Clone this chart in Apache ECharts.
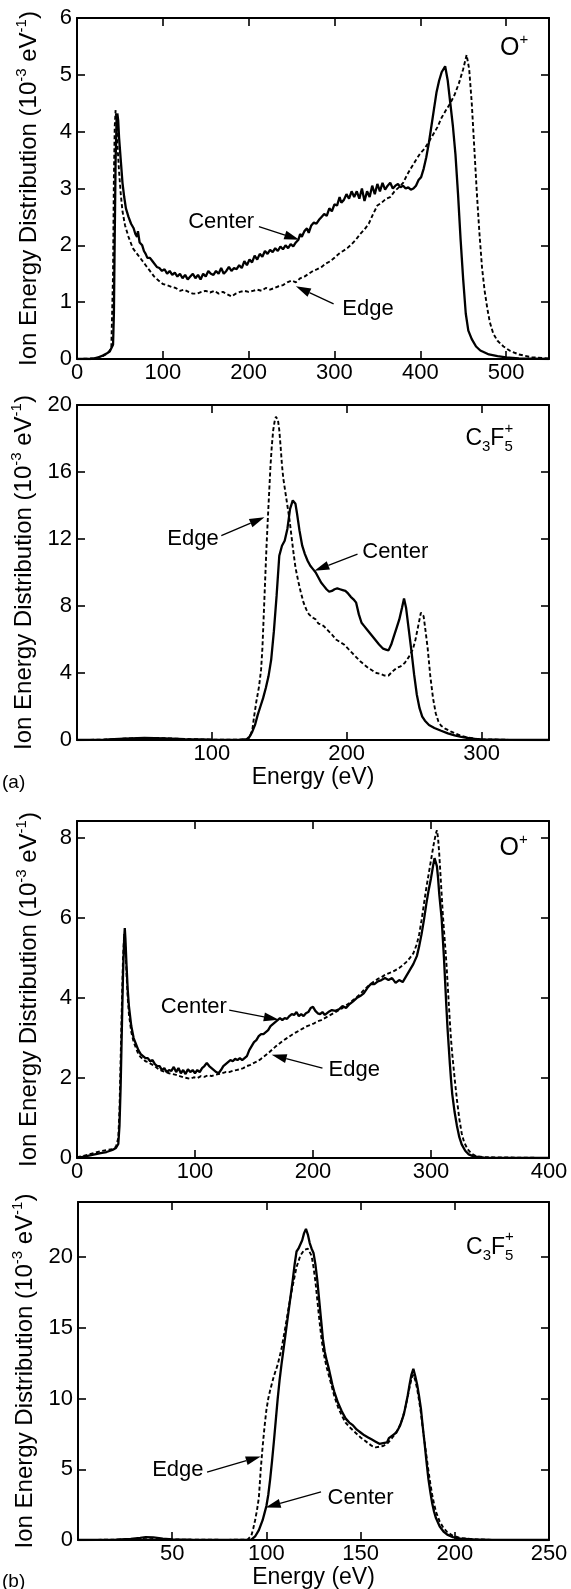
<!DOCTYPE html>
<html><head><meta charset="utf-8">
<script src="https://cdn.jsdelivr.net/npm/echarts/dist/echarts.min.js"></script>
<style>html,body{margin:0;padding:0;background:#fff}#c{width:571px;height:1589px}</style>
</head><body><div id="c"></div>
<script>
// ---------- DATA (energy eV, distribution 1e-3 eV^-1) ----------
const a1Center = [[0,0],[15,0],[20,0.01],[25,0.03],[30,0.06],[35,0.1],[38,0.13],[40,0.15],[42,0.25],[43,0.8],[44,2.2],[45,3.5],[46,4.1],[47,4.32],[48,4.2],[49,3.9],[51,3.5],[53,3.1],[55,2.85],[57,2.65],[60,2.5],[63,2.38],[66,2.3],[68,2.2],[70,2.15],[71,2.25],[73,2.05],[76,2.0],[78,1.9],[80,1.85],[82,1.78],[85,1.78],[88,1.72],[90,1.7],[93,1.62],[96,1.6],[99,1.55],[102,1.58],[105,1.5],[108,1.55],[111,1.48],[114,1.52],[117,1.45],[120,1.5],[123,1.42],[126,1.48],[129,1.4],[132,1.45],[135,1.5],[138,1.42],[141,1.48],[144,1.4],[147,1.5],[150,1.45],[153,1.55],[156,1.5],[159,1.48],[162,1.55],[165,1.5],[168,1.6],[171,1.5],[174,1.55],[177,1.62],[180,1.55],[183,1.6],[186,1.58],[189,1.65],[192,1.6],[195,1.72],[198,1.65],[201,1.75],[204,1.7],[207,1.82],[210,1.75],[213,1.85],[216,1.8],[219,1.9],[222,1.85],[225,1.92],[228,1.88],[231,1.95],[234,1.9],[237,1.98],[240,1.93],[243,2.0],[246,1.95],[249,2.02],[252,1.98],[255,2.05],[258,2.1],[260,2.2],[262,2.15],[265,2.25],[268,2.3],[270,2.22],[273,2.35],[276,2.4],[279,2.38],[282,2.45],[285,2.5],[288,2.55],[291,2.52],[294,2.65],[297,2.6],[300,2.72],[303,2.7],[306,2.85],[308,2.75],[311,2.8],[314,2.9],[317,2.82],[320,2.95],[323,2.85],[326,2.95],[329,2.82],[332,3.0],[335,2.78],[338,2.95],[341,2.85],[344,3.05],[347,2.9],[350,3.08],[353,2.95],[356,3.1],[359,2.98],[362,3.05],[365,3.1],[368,3.0],[371,3.05],[374,3.08],[377,3.02],[380,3.05],[383,3.0],[386,3.02],[389,2.98],[392,3.0],[395,3.05],[398,3.15],[401,3.2],[404,3.35],[407,3.55],[410,3.8],[413,4.1],[416,4.4],[419,4.7],[422,4.9],[425,5.05],[429,5.15],[432,4.9],[435,4.5],[438,4.1],[441,3.6],[444,2.9],[447,2.1],[450,1.4],[453,0.8],[456,0.5],[460,0.35],[465,0.22],[470,0.15],[480,0.08],[490,0.05],[500,0.03],[515,0.01],[550,0]];
const a1Edge = [[0,0],[20,0.01],[30,0.05],[36,0.1],[40,0.2],[42,1.5],[43,3.2],[44,4.1],[45,4.38],[46,4.2],[47,3.8],[49,3.3],[51,2.9],[53,2.6],[56,2.35],[60,2.15],[65,1.95],[70,1.85],[75,1.75],[80,1.65],[85,1.55],[90,1.45],[95,1.38],[100,1.32],[105,1.3],[110,1.27],[115,1.25],[120,1.2],[125,1.22],[130,1.18],[135,1.15],[140,1.15],[145,1.18],[150,1.2],[155,1.17],[160,1.2],[165,1.15],[170,1.18],[175,1.14],[180,1.1],[185,1.15],[190,1.18],[195,1.2],[200,1.18],[205,1.2],[210,1.22],[215,1.2],[220,1.25],[225,1.22],[230,1.25],[235,1.28],[240,1.3],[245,1.35],[250,1.38],[255,1.35],[260,1.42],[265,1.45],[270,1.5],[275,1.55],[280,1.58],[285,1.62],[290,1.68],[295,1.72],[300,1.78],[305,1.85],[310,1.9],[315,1.95],[320,2.02],[325,2.1],[330,2.2],[335,2.28],[340,2.38],[345,2.55],[350,2.7],[355,2.75],[360,2.82],[365,2.85],[370,2.95],[375,3.02],[380,3.1],[385,3.25],[390,3.38],[395,3.5],[400,3.62],[405,3.7],[410,3.82],[415,3.95],[420,4.08],[425,4.25],[430,4.38],[435,4.5],[440,4.65],[445,4.85],[450,5.1],[454,5.35],[457,5.1],[460,4.5],[463,3.7],[466,2.9],[469,2.2],[472,1.6],[475,1.2],[478,0.9],[481,0.65],[485,0.45],[490,0.32],[497,0.22],[505,0.14],[515,0.08],[530,0.03],[550,0.01]];

const a2Center = [[0,0],[20,0.02],[35,0.08],[50,0.12],[65,0.1],[80,0.05],[100,0.02],[120,0.01],[126,0.05],[128,0.2],[130,0.5],[132,0.9],[134,1.5],[136,2.0],[138,2.5],[140,3.1],[142,3.8],[144,4.8],[146,6.5],[148,8.6],[150,11.0],[152,11.6],[154,11.9],[156,12.6],[158,13.8],[160,14.3],[161,14.35],[162,14.1],[163,13.6],[165,12.5],[167,11.6],[169,11.1],[171,10.7],[173,10.4],[175,10.2],[177,10.0],[179,9.7],[181,9.4],[183,9.2],[185,9.0],[187,8.85],[189,8.9],[191,9.0],[193,9.05],[195,9.0],[197,8.95],[199,8.9],[201,8.75],[203,8.55],[205,8.4],[207,8.2],[209,7.5],[211,7.0],[213,6.8],[215,6.6],[218,6.3],[221,6.0],[224,5.7],[227,5.45],[229,5.4],[230,5.3],[231,5.35],[233,5.7],[235,6.2],[237,6.7],[239,7.2],[241,7.9],[242.5,8.45],[244,7.9],[246,6.6],[248,5.3],[250,3.9],[252,2.7],[254,1.9],[256,1.4],[258,1.15],[261,0.9],[265,0.72],[270,0.55],[275,0.4],[280,0.28],[285,0.18],[290,0.12],[295,0.07],[300,0.04],[320,0.01],[350,0]];
const a2Edge = [[0,0],[20,0.02],[40,0.1],[60,0.12],[80,0.06],[100,0.02],[120,0.02],[126,0.05],[128,0.15],[130,0.6],[131.5,1.5],[133,2.3],[135,3.2],[136.5,4.2],[137.5,5.5],[138.5,7.5],[139.5,9.5],[140.5,11.5],[141.5,13.2],[142.5,14.8],[143.5,16.4],[144.5,17.6],[145.5,18.5],[146.5,19.0],[147.5,19.3],[148.2,19.4],[149,19.1],[150,18.5],[151,17.5],[152,16.4],[153,15.6],[154.5,14.8],[156,14.0],[157.5,13.2],[159,12.2],[160.5,11.2],[162,10.3],[164,9.5],[166,8.8],[168,8.2],[170,7.8],[172,7.5],[175,7.3],[177,7.2],[179,6.95],[181,6.9],[183,6.8],[186,6.55],[189,6.3],[192,6.0],[195,5.85],[198,5.7],[201,5.45],[204,5.2],[207,4.95],[210,4.7],[213,4.5],[216,4.3],[219,4.15],[222,4.0],[225,3.95],[228,3.85],[231,3.85],[234,4.1],[237,4.3],[240,4.4],[243,4.6],[246,4.95],[249,5.4],[251,6.0],[253,6.8],[255,7.6],[256,7.7],[257,7.4],[258,6.8],[260,5.5],[262,3.8],[264,2.5],[266,1.6],[268,1.1],[270,0.85],[273,0.68],[277,0.52],[281,0.38],[285,0.25],[290,0.15],[295,0.08],[300,0.04],[320,0.01],[350,0]];

const b1Center = [[0,0],[5,0.03],[10,0.06],[15,0.09],[20,0.12],[25,0.15],[30,0.2],[33,0.25],[35,0.35],[36,0.8],[37,1.8],[38,3.2],[39,4.6],[40,5.5],[40.5,5.75],[41,5.5],[42,4.8],[43,4.2],[44,3.8],[46,3.3],[48,3.0],[50,2.85],[52,2.7],[54,2.6],[56,2.55],[58,2.5],[60,2.5],[62,2.42],[64,2.45],[66,2.35],[68,2.3],[70,2.3],[72,2.2],[74,2.25],[76,2.15],[78,2.2],[80,2.18],[82,2.28],[84,2.15],[86,2.25],[88,2.12],[90,2.2],[92,2.1],[94,2.22],[96,2.15],[98,2.2],[100,2.12],[102,2.2],[104,2.15],[106,2.25],[108,2.3],[110,2.38],[112,2.3],[114,2.25],[116,2.2],[118,2.15],[120,2.12],[122,2.2],[124,2.3],[126,2.35],[128,2.4],[130,2.45],[132,2.42],[134,2.48],[136,2.45],[138,2.5],[140,2.45],[142,2.5],[144,2.55],[146,2.7],[148,2.8],[150,2.9],[152,2.95],[154,3.05],[156,3.1],[158,3.1],[160,3.15],[162,3.2],[164,3.3],[166,3.35],[168,3.4],[170,3.45],[172,3.5],[174,3.45],[176,3.5],[178,3.48],[180,3.55],[182,3.6],[184,3.58],[186,3.65],[188,3.55],[190,3.6],[192,3.55],[194,3.62],[196,3.65],[198,3.75],[200,3.78],[202,3.68],[204,3.62],[206,3.6],[208,3.65],[210,3.58],[213,3.65],[216,3.7],[219,3.68],[222,3.72],[225,3.8],[228,3.75],[231,3.85],[234,3.92],[237,4.0],[240,4.05],[243,4.12],[246,4.25],[249,4.35],[252,4.35],[255,4.42],[258,4.45],[261,4.5],[264,4.45],[267,4.5],[270,4.38],[273,4.45],[276,4.4],[279,4.55],[282,4.7],[285,4.85],[288,5.05],[290,5.3],[292,5.6],[294,5.95],[296,6.35],[298,6.7],[300,7.0],[302,7.35],[303,7.5],[304,7.45],[305,7.3],[306,7.0],[307,6.6],[308,6.3],[309,6.0],[310,5.5],[311,5.0],[312,4.4],[313,3.8],[314,3.25],[315,2.8],[316,2.35],[317,1.95],[318,1.6],[320,1.15],[322,0.8],[324,0.52],[326,0.34],[329,0.18],[332,0.09],[336,0.04],[345,0.01],[400,0]];
const b1Edge = [[0,0.02],[5,0.05],[10,0.09],[15,0.13],[20,0.17],[25,0.2],[30,0.22],[33,0.28],[35,0.5],[36,1.2],[37,2.5],[38,3.8],[39,5.0],[40,5.6],[41,5.3],[42,4.6],[43,4.0],[44,3.6],[46,3.15],[48,2.9],[50,2.75],[52,2.6],[54,2.52],[56,2.48],[58,2.42],[60,2.4],[63,2.35],[66,2.3],[69,2.22],[72,2.18],[75,2.15],[78,2.12],[81,2.1],[84,2.08],[87,2.05],[90,2.02],[93,2.0],[96,1.98],[99,2.02],[102,2.0],[105,2.05],[108,2.03],[111,2.07],[114,2.05],[117,2.08],[120,2.1],[123,2.12],[126,2.15],[129,2.15],[132,2.18],[135,2.2],[138,2.22],[141,2.25],[144,2.3],[147,2.33],[150,2.38],[153,2.42],[156,2.48],[159,2.55],[162,2.62],[165,2.7],[168,2.78],[171,2.85],[174,2.92],[177,2.98],[180,3.04],[183,3.1],[186,3.15],[189,3.2],[192,3.25],[195,3.3],[198,3.33],[201,3.37],[204,3.42],[207,3.45],[210,3.5],[213,3.55],[216,3.6],[219,3.65],[222,3.7],[225,3.75],[228,3.82],[231,3.88],[234,3.95],[237,4.02],[240,4.1],[243,4.2],[246,4.28],[249,4.36],[252,4.42],[255,4.48],[258,4.52],[261,4.58],[264,4.62],[267,4.65],[270,4.7],[273,4.75],[276,4.82],[279,4.9],[282,5.0],[285,5.12],[288,5.35],[290,5.6],[292,5.95],[294,6.35],[296,6.75],[298,7.1],[300,7.45],[302,7.8],[304,8.1],[305,8.2],[306,8.0],[307,7.6],[308,7.1],[309,6.6],[310,6.1],[311,5.7],[312,5.3],[313,4.9],[314,4.4],[315,3.9],[316,3.4],[317,2.95],[318,2.6],[320,2.0],[322,1.45],[324,0.98],[326,0.62],[328,0.4],[331,0.22],[334,0.12],[338,0.05],[345,0.02],[400,0]];

const b2Center = [[0,0],[20,0.02],[28,0.08],[33,0.15],[36,0.2],[40,0.18],[45,0.1],[50,0.05],[60,0.02],[80,0.01],[92,0.02],[94,0.25],[96,0.7],[98,1.4],[99,1.9],[100,2.4],[101,3.2],[102,4.3],[103,5.6],[104,7.0],[105,8.5],[106,10.0],[107,11.3],[108,12.4],[109,13.4],[110,14.4],[111,15.4],[112,16.4],[113,17.4],[114,18.4],[115,19.5],[116,20.4],[117,20.6],[118,20.7],[119,21.2],[120,21.7],[121,22.0],[122,21.6],[123,21.0],[124,20.6],[125,20.3],[126,19.5],[127,18.4],[128,17.0],[129,15.6],[130,14.2],[131,13.3],[132,12.7],[133,12.2],[134,11.6],[135,11.0],[136,10.5],[138,9.7],[140,9.1],[142,8.6],[144,8.3],[146,8.1],[148,7.8],[150,7.6],[152,7.4],[154,7.25],[156,7.1],[158,6.95],[160,6.8],[162,6.85],[164,6.9],[165,7.2],[167,7.4],[169,7.6],[171,8.1],[173,8.9],[175,10.2],[176,11.0],[177,11.7],[178,12.1],[179,11.6],[180,11.0],[181,10.2],[182,9.3],[183,8.0],[184,6.8],[185,5.5],[186,4.3],[187,3.4],[188,2.6],[189,2.0],[190,1.55],[192,0.95],[194,0.6],[196,0.38],[199,0.2],[203,0.1],[210,0.04],[220,0.01],[250,0]];
const b2Edge = [[0,0],[20,0.02],[28,0.06],[33,0.12],[36,0.16],[40,0.14],[45,0.08],[50,0.04],[60,0.02],[80,0.01],[90,0.03],[92,0.3],[93,0.8],[94,1.4],[95,2.1],[96,3.0],[97,5.0],[98,6.6],[99,8.0],[100,9.2],[101,10.0],[102,10.6],[103,11.1],[104,11.6],[106,12.4],[108,13.5],[110,15.0],[112,16.6],[114,18.0],[116,19.3],[118,20.1],[120,20.5],[122,20.6],[123,20.5],[124,20.1],[125,19.3],[126,18.3],[127,17.0],[128,15.7],[129,14.5],[130,13.5],[131,12.8],[132,12.2],[134,11.2],[136,10.2],[138,9.4],[140,8.8],[142,8.3],[144,8.0],[146,7.75],[148,7.5],[150,7.25],[152,7.05],[154,6.85],[156,6.65],[158,6.55],[160,6.6],[162,6.65],[164,6.8],[166,7.1],[168,7.45],[170,7.85],[172,8.5],[174,9.5],[176,10.8],[177,11.4],[178,11.7],[179,11.3],[180,10.7],[181,9.9],[182,9.0],[183,7.9],[184,6.9],[185,5.9],[186,4.9],[187,4.0],[188,3.2],[189,2.55],[190,2.0],[192,1.3],[194,0.85],[196,0.55],[199,0.3],[203,0.14],[210,0.05],[220,0.01],[250,0]];

// axis extents / tick steps
const xMax = [550, 350, 400, 250];
const xStep = [100, 100, 100, 50];
const yMax = [6, 20, 8.43, 23.9];
const yStep = [1, 4, 2, 5];
const showXZero = [true, false, true, false];
const showXMaxLabel = [false, false, true, true];
const showYMaxLabel = [true, true, false, false];
const species = ['O', 'C3F5', 'O', 'C3F5'];
const seriesSets = [[a1Center, a1Edge], [a2Center, a2Edge], [b1Center, b1Edge], [b2Center, b2Edge]];

// ---------- layout ----------
const FONT = '"Liberation Sans", Arial, Helvetica, sans-serif';
const grids = [
  {left: 77, top: 18, width: 472, height: 341},
  {left: 77, top: 405, width: 472, height: 335},
  {left: 77, top: 821, width: 472, height: 337},
  {left: 78, top: 1202, width: 471, height: 338}
];
const xNameShown = [false, true, false, true];

// annotation placement in data coordinates: [textX, textY, fromX, fromY, tipX, tipY]
const notes = [
  [{t: 'Center', p: [168, 2.42, 212, 2.33, 259, 2.1]}, {t: 'Edge', p: [339, 0.88, 299, 0.97, 255, 1.28]}],
  [{t: 'Edge', p: [86, 12.0, 107, 12.2, 139, 13.3]}, {t: 'Center', p: [236, 11.2, 208, 11.1, 176, 10.1]}],
  [{t: 'Center', p: [99, 3.79, 129, 3.7, 171, 3.46]}, {t: 'Edge', p: [235, 2.2, 208, 2.25, 165, 2.58]}],
  [{t: 'Edge', p: [53, 4.94, 68.5, 4.8, 97, 5.9]}, {t: 'Center', p: [150, 3.0, 129, 3.4, 99.6, 2.3]}]
];
const speciesPos = [[493, 5.5], [288, 18.0], [358, 7.8], [206, 20.7]];

const chart = echarts.init(document.getElementById('c'), null, {renderer: 'canvas'});

const axisLineStyle = {color: '#000', width: 2};
const tickStyle = {show: true, inside: true, length: 8, lineStyle: {color: '#000', width: 1.6}};
const labelBase = {color: '#000', fontSize: 22, fontFamily: FONT};

const xAxes = [], yAxes = [], series = [];
for (let i = 0; i < 4; i++) {
  const xBase = {
    type: 'value', gridIndex: i, min: 0, max: xMax[i], interval: xStep[i],
    axisLine: {show: true, onZero: false, lineStyle: axisLineStyle},
    axisTick: tickStyle, splitLine: {show: false}, minorTick: {show: false}
  };
  xAxes.push(Object.assign({}, xBase, {
    position: 'bottom',
    axisLabel: Object.assign({}, labelBase, {
      margin: 3, showMinLabel: true, showMaxLabel: showXMaxLabel[i], hideOverlap: false,
      formatter: (v) => (v === 0 && !showXZero[i]) ? '' : String(v)
    }),
    name: xNameShown[i] ? 'Energy (eV)' : '',
    nameLocation: 'middle', nameGap: i === 1 ? 25 : 23,
    nameTextStyle: {color: '#000', fontSize: 23, fontFamily: FONT}
  }));
  xAxes.push(Object.assign({}, xBase, {position: 'top', axisLabel: {show: false}}));
  const yBase = {
    type: 'value', gridIndex: i, min: 0, max: yMax[i], interval: yStep[i],
    axisLine: {show: true, onZero: false, lineStyle: axisLineStyle},
    axisTick: tickStyle, splitLine: {show: false}
  };
  yAxes.push(Object.assign({}, yBase, {
    position: 'left',
    axisLabel: Object.assign({}, labelBase, {margin: 5, showMinLabel: true, showMaxLabel: showYMaxLabel[i], hideOverlap: false}),
    name: '{t|Ion Energy Distribution (10}{s|-3}{t| eV}{s|-1}{t|)}',
    nameLocation: 'middle', nameRotate: 90, nameGap: 36,
    nameTextStyle: {
      color: '#000', fontFamily: FONT,
      rich: {
        t: {fontSize: 24, fontFamily: FONT, color: '#000', lineHeight: 27, verticalAlign: 'bottom'},
        s: {fontSize: 15, fontFamily: FONT, color: '#000', lineHeight: 27, verticalAlign: 'top'}
      }
    }
  }));
  yAxes.push(Object.assign({}, yBase, {position: 'right', axisLabel: {show: false}}));

  series.push({
    type: 'line', name: 'Center', xAxisIndex: 2 * i, yAxisIndex: 2 * i,
    data: seriesSets[i][0], showSymbol: false, symbol: 'none', silent: true, animation: false,
    lineStyle: {color: '#000', width: 2.3}, z: 3
  });
  series.push({
    type: 'line', name: 'Edge', xAxisIndex: 2 * i, yAxisIndex: 2 * i,
    data: seriesSets[i][1], showSymbol: false, symbol: 'none', silent: true, animation: false,
    lineStyle: {color: '#000', width: 1.9, type: [4, 2.5]}, z: 2
  });
}

chart.setOption({
  backgroundColor: '#fff',
  animation: false,
  grid: grids.map(g => Object.assign({outerBoundsMode: 'none', containLabel: false}, g)),
  xAxis: xAxes,
  yAxis: yAxes,
  series: series
});

// ---------- annotations ----------
const graphics = [];
for (let i = 0; i < 4; i++) {
  const toPx = (x, y) => chart.convertToPixel({seriesIndex: 2 * i}, [x, y]);
  notes[i].forEach(n => {
    const [tx, ty, fx, fy, ax, ay] = n.p;
    const tp = toPx(tx, ty), fp = toPx(fx, fy), ap = toPx(ax, ay);
    graphics.push({type: 'text', x: tp[0], y: tp[1], z: 10,
      style: {text: n.t, fill: '#000', font: '22px ' + FONT, fontSize: 22, fontFamily: FONT,
        align: 'center', verticalAlign: 'middle', textAlign: 'center', textVerticalAlign: 'middle'}});
    const dx = ap[0] - fp[0], dy = ap[1] - fp[1];
    const len = Math.sqrt(dx * dx + dy * dy), ux = dx / len, uy = dy / len;
    const hl = 15, hw = 4.5;
    const bx = ap[0] - ux * hl, by = ap[1] - uy * hl;
    graphics.push({type: 'line', z: 10, shape: {x1: fp[0], y1: fp[1], x2: bx, y2: by},
      style: {stroke: '#000', lineWidth: 1.3}});
    graphics.push({type: 'polygon', z: 10,
      shape: {points: [[ap[0], ap[1]], [bx - uy * hw, by + ux * hw], [bx + uy * hw, by - ux * hw]]},
      style: {fill: '#000'}});
  });
  // species label
  const sp = toPx(speciesPos[i][0], speciesPos[i][1]);
  if (species[i] === 'O') {
    graphics.push({type: 'text', x: sp[0], y: sp[1], z: 10, style: {
      text: '{b|O}{u|+}', align: 'left', verticalAlign: 'middle', textAlign: 'left', textVerticalAlign: 'middle',
      rich: {b: {fontSize: 25, fontFamily: FONT, fill: '#000', color: '#000', lineHeight: 28, verticalAlign: 'bottom'},
             u: {fontSize: 15, fontFamily: FONT, fill: '#000', color: '#000', lineHeight: 28, verticalAlign: 'top'}}}});
  } else {
    graphics.push({type: 'text', x: sp[0], y: sp[1], z: 10, style: {
      text: '{b|C}{d|3}{b|F}{d|5}', align: 'left', verticalAlign: 'middle', textAlign: 'left', textVerticalAlign: 'middle',
      rich: {b: {fontSize: 23, fontFamily: FONT, fill: '#000', color: '#000', lineHeight: 32, verticalAlign: 'middle'},
             d: {fontSize: 15, fontFamily: FONT, fill: '#000', color: '#000', lineHeight: 32, verticalAlign: 'bottom'}}}});
    graphics.push({type: 'text', x: sp[0] + 39, y: sp[1] - 10, z: 10, style: {
      text: '+', fill: '#000', fontSize: 15, fontFamily: FONT, font: '15px ' + FONT,
      align: 'left', verticalAlign: 'middle', textAlign: 'left', textVerticalAlign: 'middle'}});
  }
}
graphics.push({type: 'text', left: 2, top: 773, z: 10, style: {text: '(a)', fill: '#000', fontSize: 19, fontFamily: FONT, font: '19px ' + FONT}});
graphics.push({type: 'text', left: 2, top: 1572, z: 10, style: {text: '(b)', fill: '#000', fontSize: 19, fontFamily: FONT, font: '19px ' + FONT}});

chart.setOption({graphic: graphics});
</script></body></html>
